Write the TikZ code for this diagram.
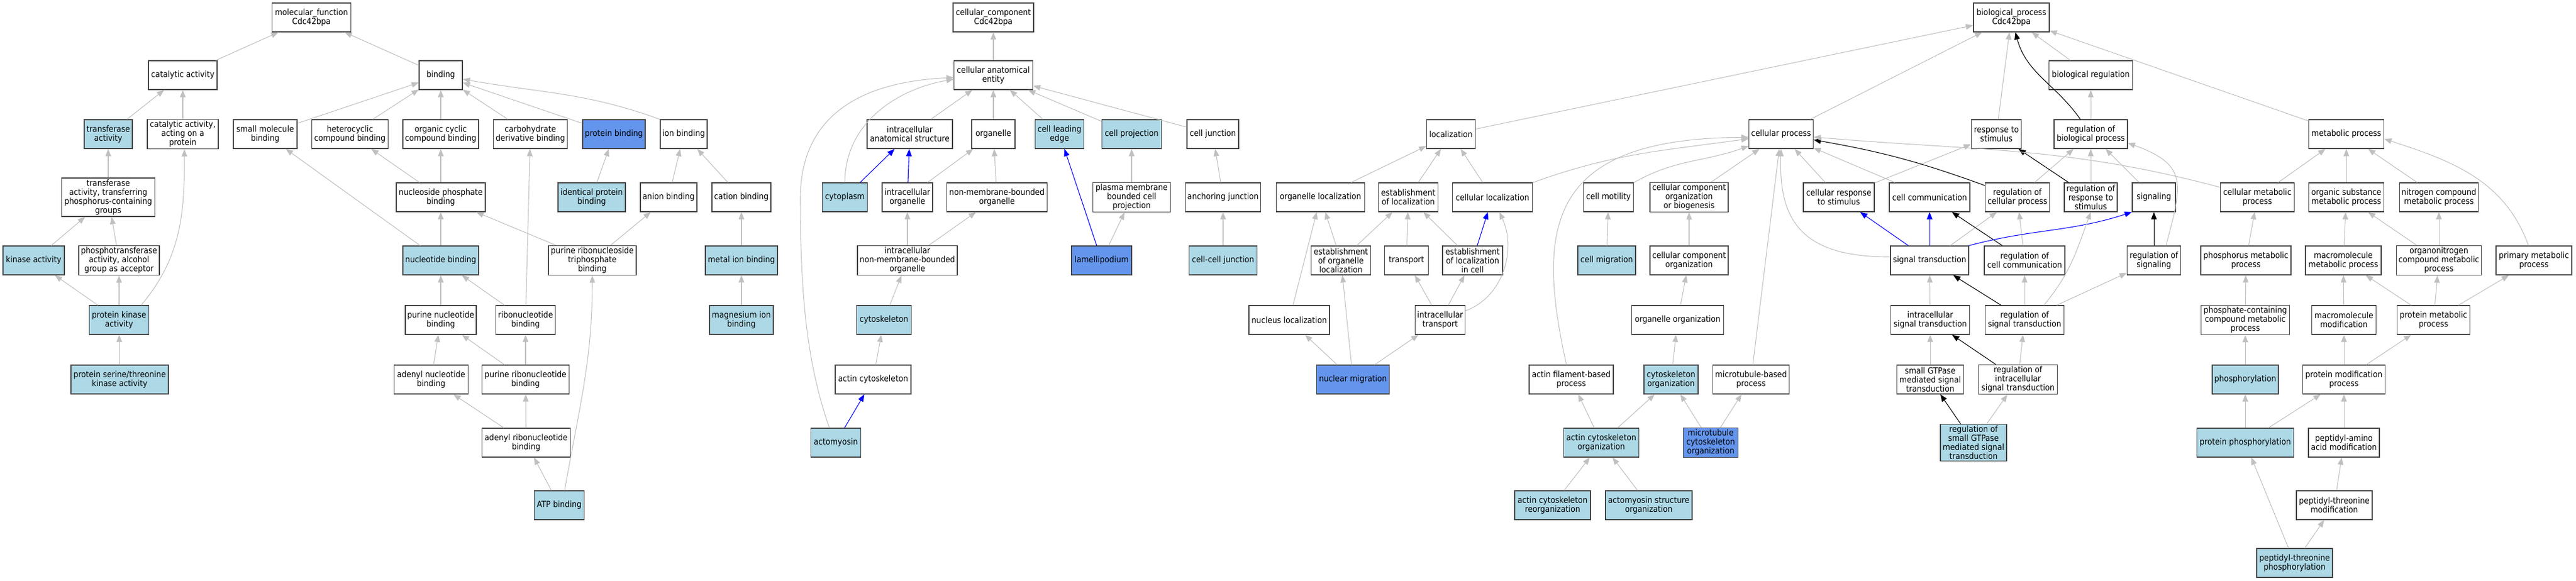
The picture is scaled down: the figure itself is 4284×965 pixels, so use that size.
\documentclass[tikz,border=0pt]{standalone}
\usepackage{fontspec}
\setmainfont{DejaVu Sans Condensed}
\usepackage{tikz}
\usetikzlibrary{arrows.meta}
\definecolor{hitblue}{HTML}{ADD8E6}
\definecolor{keyblue}{HTML}{6495ED}
\definecolor{edgegray}{HTML}{C0C0C0}
\definecolor{bordergray}{HTML}{444444}
\tikzstyle{goterm} = [draw=bordergray, line width=1pt, fill=white, rectangle, align=center, inner xsep=1.5pt, inner ysep=2pt, minimum height=36pt, font=\fontsize{10.6}{11.25}\selectfont]
\tikzstyle{hitterm} = [goterm, fill=hitblue]
\tikzstyle{keyterm} = [goterm, fill=keyblue]
\tikzstyle{isa} = [draw=edgegray, line width=0.8pt, -{Triangle[length=9pt,width=7pt]}]
\tikzstyle{partof} = [isa, draw=blue]
\tikzstyle{regul} = [isa, draw=black]
\tikzset{wd/.style={minimum width=#1*0.75pt}}

\begin{document}
\begin{tikzpicture}[x=0.75pt, y=0.75pt]
	\useasboundingbox (0,0) rectangle (4284,-965);
	% molecular function
	\node[goterm, wd=131] (mf) at (518,-29) {molecular\_function\\Cdc42bpa};
	\node[goterm, wd=114] (catact) at (304,-125) {catalytic activity};
	\node[goterm, wd=72] (bind) at (733,-125) {binding};
	\node[hitterm, wd=80] (transf) at (180,-223) {transferase\\activity};
	\node[goterm, wd=118] (catprot) at (304,-223) {catalytic activity,\\acting on a\\protein};
	\node[goterm, wd=106] (smallmol) at (441,-223) {small molecule\\binding};
	\node[goterm, wd=127] (hetcyc) at (582,-223) {heterocyclic\\compound binding};
	\node[goterm, wd=126] (orgcyc) at (733,-223) {organic cyclic\\compound binding};
	\node[goterm, wd=123] (carbo) at (882,-223) {carbohydrate\\derivative binding};
	\node[keyterm, wd=104] (protbind) at (1021,-223) {protein binding};
	\node[goterm, wd=78] (ionbind) at (1137,-223) {ion binding};
	\node[goterm, wd=155] (transp) at (180,-328) {transferase\\activity, transferring\\phosphorus-containing\\groups};
	\node[goterm, wd=148] (nucphos) at (733,-328) {nucleoside phosphate\\binding};
	\node[hitterm, wd=112] (identprot) at (984,-328) {identical protein\\binding};
	\node[goterm, wd=94] (anion) at (1112,-328) {anion binding};
	\node[goterm, wd=98] (cation) at (1233,-328) {cation binding};
	\node[hitterm, wd=102] (kinase) at (56,-433) {kinase activity};
	\node[goterm, wd=134] (phtrans) at (198,-433) {phosphotransferase\\activity, alcohol\\group as acceptor};
	\node[hitterm, wd=126] (nucbind) at (733,-433) {nucleotide binding};
	\node[goterm, wd=146] (prtri) at (985,-433) {purine ribonucleoside\\triphosphate\\binding};
	\node[hitterm, wd=120] (metalion) at (1233,-433) {metal ion binding};
	\node[hitterm, wd=99] (protkin) at (198,-532) {protein kinase\\activity};
	\node[goterm, wd=118] (purnuc) at (733,-532) {purine nucleotide\\binding};
	\node[goterm, wd=99] (ribonuc) at (874,-532) {ribonucleotide\\binding};
	\node[hitterm, wd=106] (magion) at (1233,-532) {magnesium ion\\binding};
	\node[hitterm, wd=162] (serthr) at (199,-631) {protein serine/threonine\\kinase activity};
	\node[goterm, wd=123] (adenuc) at (717,-631) {adenyl nucleotide\\binding};
	\node[goterm, wd=145] (purribo) at (874,-631) {purine ribonucleotide\\binding};
	\node[goterm, wd=147] (adenribo) at (875,-736) {adenyl ribonucleotide\\binding};
	\node[hitterm, wd=83] (atp) at (930,-840) {ATP binding};
	% cellular component
	\node[goterm, wd=134] (cc) at (1652,-29) {cellular\_component\\Cdc42bpa};
	\node[goterm, wd=131] (cae) at (1652,-125) {cellular anatomical\\entity};
	\node[goterm, wd=142] (intanat) at (1513,-223) {intracellular\\anatomical structure};
	\node[goterm, wd=72] (organelle) at (1652,-223) {organelle};
	\node[hitterm, wd=81] (leading) at (1762,-223) {cell leading\\edge};
	\node[hitterm, wd=99] (cellproj) at (1882,-223) {cell projection};
	\node[goterm, wd=86] (celljunc) at (2017,-223) {cell junction};
	\node[hitterm, wd=75] (cytoplasm) at (1405,-328) {cytoplasm};
	\node[goterm, wd=84] (intorg) at (1509,-328) {intracellular\\organelle};
	\node[goterm, wd=167] (nonmem) at (1658,-328) {non-membrane-bounded\\organelle};
	\node[goterm, wd=129] (pmcp) at (1882,-328) {plasma membrane\\bounded cell\\projection};
	\node[goterm, wd=125] (anchor) at (2034,-328) {anchoring junction};
	\node[goterm, wd=166] (intnonmem) at (1509,-433) {intracellular\\non-membrane-bounded\\organelle};
	\node[keyterm, wd=100] (lamelli) at (1832,-433) {lamellipodium};
	\node[hitterm, wd=113] (cellcell) at (2034,-433) {cell-cell junction};
	\node[hitterm, wd=91] (cytosk) at (1470,-532) {cytoskeleton};
	\node[goterm, wd=126] (actincyto) at (1452,-631) {actin cytoskeleton};
	\node[hitterm, wd=83] (actomyo) at (1390,-736) {actomyosin};
	% biological process
	\node[goterm, wd=126] (bp) at (3345,-29) {biological\_process\\Cdc42bpa};
	\node[goterm, wd=139] (bioreg) at (3477,-125) {biological regulation};
	\node[goterm, wd=81] (local) at (2413,-223) {localization};
	\node[goterm, wd=107] (cellproc) at (2962,-223) {cellular process};
	\node[goterm, wd=83] (resp) at (3320,-223) {response to\\stimulus};
	\node[goterm, wd=122] (regbio) at (3477,-223) {regulation of\\biological process};
	\node[goterm, wd=125] (metab) at (3902,-223) {metabolic process};
	\node[goterm, wd=147] (orgloc) at (2196,-328) {organelle localization};
	\node[goterm, wd=99] (estloc) at (2342,-328) {establishment\\of localization};
	\node[goterm, wd=133] (cellloc) at (2482,-328) {cellular localization};
	\node[goterm, wd=83] (motil) at (2675,-328) {cell motility};
	\node[goterm, wd=130] (ccob) at (2809,-328) {cellular component\\organization\\or biogenesis};
	\node[goterm, wd=118] (cellresp) at (3058,-328) {cellular response\\to stimulus};
	\node[goterm, wd=134] (cellcomm) at (3209,-328) {cell communication};
	\node[goterm, wd=107] (regcell) at (3355,-328) {regulation of\\cellular process};
	\node[goterm, wd=88] (regresp) at (3477,-328) {regulation of\\response to\\stimulus};
	\node[goterm, wd=72] (signaling) at (3582,-328) {signaling};
	\node[goterm, wd=123] (cellmet) at (3754,-328) {cellular metabolic\\process};
	\node[goterm, wd=125] (orgsub) at (3902,-328) {organic substance\\metabolic process};
	\node[goterm, wd=131] (nitro) at (4056,-328) {nitrogen compound\\metabolic process};
	\node[goterm, wd=99] (estorg) at (2230,-433) {establishment\\of organelle\\localization};
	\node[goterm, wd=73] (transport) at (2339,-433) {transport};
	\node[goterm, wd=100] (estcell) at (2449,-433) {establishment\\of localization\\in cell};
	\node[hitterm, wd=96] (migr) at (2672,-433) {cell migration};
	\node[goterm, wd=130] (cco) at (2809,-433) {cellular component\\organization};
	\node[goterm, wd=130] (sigtrans) at (3209,-433) {signal transduction};
	\node[goterm, wd=134] (regcomm) at (3367,-433) {regulation of\\cell communication};
	\node[goterm, wd=89] (regsig) at (3582,-433) {regulation of\\signaling};
	\node[goterm, wd=150] (phosmet) at (3735,-433) {phosphorus metabolic\\process};
	\node[goterm, wd=126] (macromet) at (3897,-433) {macromolecule\\metabolic process};
	\node[goterm, wd=141] (orgnitro) at (4056,-433) {organonitrogen\\compound metabolic\\process};
	\node[goterm, wd=126] (primary) at (4214,-433) {primary metabolic\\process};
	\node[goterm, wd=134] (nucloc) at (2144,-532) {nucleus localization};
	\node[goterm, wd=83] (inttrans) at (2395,-532) {intracellular\\transport};
	\node[goterm, wd=153] (orgorg) at (2790,-532) {organelle organization};
	\node[goterm, wd=131] (intsig) at (3210,-532) {intracellular\\signal transduction};
	\node[goterm, wd=131] (regsigtr) at (3367,-532) {regulation of\\signal transduction};
	\node[goterm, wd=147] (phoscont) at (3734,-532) {phosphate-containing\\compound metabolic\\process};
	\node[goterm, wd=107] (macromod) at (3898,-532) {macromolecule\\modification};
	\node[goterm, wd=121] (protmet) at (4047,-532) {protein metabolic\\process};
	\node[keyterm, wd=121] (nucmig) at (2250,-631) {nuclear migration};
	\node[goterm, wd=140] (actfil) at (2613,-631) {actin filament-based\\process};
	\node[hitterm, wd=90] (cytorg) at (2779,-631) {cytoskeleton\\organization};
	\node[goterm, wd=127] (mtproc) at (2912,-631) {microtubule-based\\process};
	\node[goterm, wd=111] (smallgt) at (3210,-631) {small GTPase\\mediated signal\\transduction};
	\node[goterm, wd=131] (regintsig) at (3356,-631) {regulation of\\intracellular\\signal transduction};
	\node[hitterm, wd=110] (phosph) at (3734,-631) {phosphorylation};
	\node[goterm, wd=137] (protmod) at (3898,-631) {protein modification\\process};
	\node[hitterm, wd=125] (actorg) at (2663,-736) {actin cytoskeleton\\organization};
	\node[keyterm, wd=91] (mtorg) at (2845,-736) {microtubule\\cytoskeleton\\organization};
	\node[hitterm, wd=110] (regsmall) at (3282,-736) {regulation of\\small GTPase\\mediated signal\\transduction};
	\node[hitterm, wd=161] (protphos) at (3734,-736) {protein phosphorylation};
	\node[goterm, wd=118] (peptam) at (3898,-736) {peptidyl-amino\\acid modification};
	\node[hitterm, wd=126] (actreorg) at (2582,-840) {actin cytoskeleton\\reorganization};
	\node[hitterm, wd=144] (actomyorg) at (2742,-840) {actomyosin structure\\organization};
	\node[goterm, wd=126] (pepthr) at (3882,-840) {peptidyl-threonine\\modification};
	\node[hitterm, wd=126] (pepthrph) at (3816,-936) {peptidyl-threonine\\phosphorylation};

	% edges, molecular function
	\draw[isa] (catact) -- (mf);
	\draw[isa] (bind) -- (mf);
	\draw[isa] (transf) -- (catact);
	\draw[isa] (catprot) -- (catact);
	\draw[isa] (smallmol) -- (bind);
	\draw[isa] (hetcyc) -- (bind);
	\draw[isa] (orgcyc) -- (bind);
	\draw[isa] (carbo) -- (bind);
	\draw[isa] (protbind) -- (bind);
	\draw[isa] (ionbind.north west) to[out=160,in=-10] ([yshift=-5pt]bind.east);
	\draw[isa] (transp) -- (transf);
	\draw[isa] (kinase) -- (transp);
	\draw[isa] (phtrans) -- (transp);
	\draw[isa] (protkin) -- (kinase);
	\draw[isa] (protkin) -- (phtrans);
	\draw[isa] ([xshift=-10pt]protkin.north east) to[out=50,in=-90] ([xshift=2pt]catprot.south);
	\draw[isa] (serthr) -- (protkin);
	\draw[isa] (nucphos) -- (hetcyc);
	\draw[isa] (nucphos) -- (orgcyc);
	\draw[isa] (nucbind) -- (smallmol);
	\draw[isa] (nucbind) -- (nucphos);
	\draw[isa] (identprot) -- (protbind);
	\draw[isa] (anion) -- (ionbind);
	\draw[isa] (cation) -- (ionbind);
	\draw[isa] (prtri) -- (nucphos);
	\draw[isa] (prtri) -- (anion);
	\draw[isa] (metalion) -- (cation);
	\draw[isa] (magion) -- (metalion);
	\draw[isa] (purnuc) -- (nucbind);
	\draw[isa] (ribonuc) -- (nucbind);
	\draw[isa] (ribonuc) -- (carbo);
	\draw[isa] (adenuc) -- (purnuc);
	\draw[isa] (purribo) -- (purnuc);
	\draw[isa] (purribo) -- (ribonuc);
	\draw[isa] (adenribo) -- (adenuc);
	\draw[isa] (adenribo) -- (purribo);
	\draw[isa] (atp) -- (adenribo);
	\draw[isa] (atp.70) to[out=80,in=-90] (prtri.south);

	% edges, cellular component
	\draw[isa] (cae) -- (cc);
	\draw[isa] (intanat) -- (cae);
	\draw[isa] (organelle) -- (cae);
	\draw[isa] (leading) -- (cae);
	\draw[isa] (cellproj) -- (cae);
	\draw[isa] (celljunc) -- (cae);
	\draw[isa] (cytoplasm.north) to[out=90,in=190] ([yshift=-5pt]cae.west);
	\draw[isa] ([xshift=-8pt]actomyo.north) .. controls (1340,-600) and (1331,-480) .. (1331,-330) .. controls (1331,-180) and (1450,-135) .. ([yshift=-3pt]cae.west);
	\draw[partof] (cytoplasm) -- (intanat);
	\draw[partof] (intorg) -- (intanat);
	\draw[isa] (intorg) -- (organelle);
	\draw[isa] (nonmem) -- (organelle);
	\draw[isa] (pmcp) -- (cellproj);
	\draw[isa] (anchor) -- (celljunc);
	\draw[isa] (intnonmem) -- (intorg);
	\draw[isa] (intnonmem) -- (nonmem);
	\draw[partof] (lamelli) -- (leading);
	\draw[isa] (lamelli) -- (pmcp);
	\draw[isa] (cellcell) -- (anchor);
	\draw[isa] (cytosk) -- (intnonmem);
	\draw[isa] (actincyto) -- (cytosk);
	\draw[partof] (actomyo) -- (actincyto);

	% edges, biological process
	\draw[isa] (local) -- (bp);
	\draw[isa] (cellproc) -- (bp);
	\draw[isa] (resp) -- (bp);
	\draw[regul] (regbio) to[out=125,in=-75] (bp);
	\draw[isa] (bioreg) -- (bp);
	\draw[isa] (metab) -- (bp);
	\draw[isa] (regbio) -- (bioreg);
	\draw[isa] (orgloc) -- (local);
	\draw[isa] (estloc) -- (local);
	\draw[isa] (cellloc) -- (local);
	\draw[isa] (cellloc) to[out=20,in=188] (cellproc);
	\draw[isa] (estorg) -- (orgloc);
	\draw[isa] (estorg) -- (estloc);
	\draw[isa] (transport) -- (estloc);
	\draw[isa] (estcell) -- (estloc);
	\draw[partof] (estcell) -- (cellloc);
	\draw[isa] (inttrans) to[out=20,in=-65] (cellloc);
	\draw[isa] (inttrans) -- (transport);
	\draw[isa] (inttrans) -- (estcell);
	\draw[isa] (nucloc) -- (orgloc);
	\draw[isa] (nucmig) -- (nucloc);
	\draw[isa] (nucmig) -- (estorg);
	\draw[isa] (nucmig) -- (inttrans);
	\draw[isa] (motil) to[out=30,in=200] (cellproc);
	\draw[isa] (migr) -- (motil);
	\draw[isa] (ccob) -- (cellproc);
	\draw[isa] (cco) -- (ccob);
	\draw[isa] (orgorg) -- (cco);
	\draw[isa] (cytorg) -- (orgorg);
	\draw[isa] ([xshift=-6pt]actfil.north) .. controls (2555,-380) and (2570,-230) .. ([yshift=-4pt]cellproc.west);
	\draw[isa] (actorg) -- (actfil);
	\draw[isa] (actorg) -- (cytorg);
	\draw[isa] (mtorg) -- (cytorg);
	\draw[isa] (mtorg) -- (mtproc);
	\draw[isa] (mtproc) -- (cellproc);
	\draw[isa] (actreorg) -- (actorg);
	\draw[isa] (actomyorg) -- (actorg);
	\draw[isa] (cellresp) -- (cellproc);
	\draw[isa] (cellresp) -- (resp);
	\draw[isa] (cellcomm) -- (cellproc);
	\draw[regul] (regcell) to[bend right=5] (cellproc);
	\draw[isa] (regcell) -- (regbio);
	\draw[regul] (regresp) -- (resp);
	\draw[isa] (regresp) -- (regbio);
	\draw[partof] (sigtrans) -- (cellresp);
	\draw[partof] (sigtrans) -- (cellcomm);
	\draw[isa] (sigtrans) -- (regcell);
	\draw[regul] (regcomm) -- (cellcomm);
	\draw[isa] (regcomm) -- (regcell);
	\draw[isa] ([yshift=4.5pt]sigtrans.west) .. controls (2990,-428) and (2958,-360) .. (cellproc.south);
	\draw[partof] (sigtrans.north east) to[out=15,in=198] (signaling.south west);
	\draw[isa] (intsig) -- (sigtrans);
	\draw[regul] (regsigtr) -- (sigtrans);
	\draw[isa] (regsigtr) -- (regcomm);
	\draw[isa] ([xshift=24pt]regsigtr.north) to[out=50,in=-110] (regresp.south);
	\draw[isa] (regsigtr) -- (regsig);
	\draw[isa] (smallgt) -- (intsig);
	\draw[regul] (regintsig) -- (intsig);
	\draw[isa] (regintsig) -- (regsigtr);
	\draw[regul] (regsmall) -- (smallgt);
	\draw[isa] (regsmall) -- (regintsig);
	\draw[isa] (signaling) -- (regbio);
	\draw[isa] ([xshift=15pt]regsig.north) to[out=75,in=-20,looseness=1.5] ([yshift=-11pt]regbio.east);
	\draw[regul] (regsig) -- (signaling);
	\draw[isa] (cellmet) -- (metab);
	\draw[isa] (orgsub) -- (metab);
	\draw[isa] (nitro) -- (metab);
	\draw[isa] (primary) to[out=110,in=-18] ([yshift=-6pt]metab.east);
	\draw[isa] (cellmet) to[out=165,in=-5] (cellproc);
	\draw[isa] (phosmet) -- (cellmet);
	\draw[isa] (macromet) -- (orgsub);
	\draw[isa] (orgnitro) -- (orgsub);
	\draw[isa] (orgnitro) -- (nitro);
	\draw[isa] (phoscont) -- (phosmet);
	\draw[isa] (macromod) -- (macromet);
	\draw[isa] (protmet) -- (macromet);
	\draw[isa] (protmet) -- (orgnitro);
	\draw[isa] (protmet) -- (primary);
	\draw[isa] (phosph) -- (phoscont);
	\draw[isa] (protmod) -- (macromod);
	\draw[isa] (protmod) -- (protmet);
	\draw[isa] (protphos) -- (phosph);
	\draw[isa] (protphos) -- (protmod);
	\draw[isa] (peptam) -- (protmod);
	\draw[isa] (pepthr) -- (peptam);
	\draw[isa] (pepthrph) -- (protphos);
	\draw[isa] (pepthrph) -- (pepthr);
\end{tikzpicture}
\end{document}
